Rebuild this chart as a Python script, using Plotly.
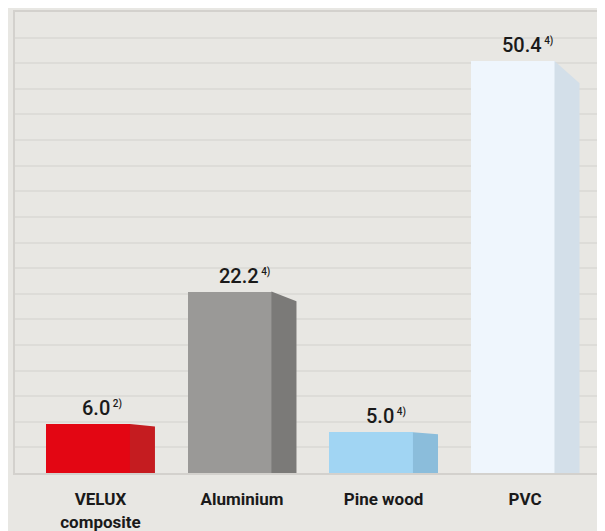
import plotly.graph_objects as go

categories = ["VELUX<br>composite", "Aluminium", "Pine wood", "PVC"]
values = [6.0, 22.2, 5.0, 50.4]
footnotes = ["2)", "4)", "4)", "4)"]
front_colors = ["#e30613", "#9a9997", "#a1d5f3", "#eff6fd"]
side_colors = ["#c51c20", "#7b7a78", "#8bbddb", "#d3dfe9"]

BG = "#e8e7e3"
GRID = "#dddcd8"
AXIS = "#d3d1cd"

front_w = 0.594
front_off = -0.088
side_l = 0.208
side_r = 0.385
persp = 0.946

fig = go.Figure()
xs = list(range(len(values)))
fig.add_trace(go.Bar(
    x=[i + front_off for i in xs], y=values, width=front_w,
    marker=dict(color=front_colors, line=dict(width=0)),
    hoverinfo="skip", showlegend=False,
))
for i, v in enumerate(values):
    fig.add_trace(go.Scatter(
        x=[i + side_l, i + side_l, i + side_r, i + side_r, i + side_l],
        y=[0, v, v * persp, 0, 0],
        fill="toself", fillcolor=side_colors[i], mode="lines",
        line=dict(width=0, color=side_colors[i]),
        hoverinfo="skip", showlegend=False,
    ))
    fig.add_annotation(
        x=i, y=v, xref="x", yref="y",
        text=f"{v:.1f}<sup><span style='font-size:10px'> {footnotes[i]}</span></sup>",
        showarrow=False, yanchor="bottom", yshift=2, xshift=2,
        font=dict(family="Roboto", size=20, color="#1a1a1a", weight=500),
    )

ymax = 56.4
fig.update_layout(
    width=597, height=523,
    margin=dict(l=7, r=0, t=4, b=58),
    paper_bgcolor=BG, plot_bgcolor=BG,
    bargap=0,
    xaxis=dict(
        range=[-0.604, 3.565], tickvals=xs, ticktext=categories,
        showgrid=False, zeroline=False,
        showline=True, mirror=True, linecolor=AXIS, linewidth=2,
        ticks="outside", ticklen=10, tickcolor="rgba(0,0,0,0)",
        tickfont=dict(family="Roboto", size=17, color="#1a1a1a", weight="bold"),
    ),
    yaxis=dict(
        range=[0, ymax], dtick=ymax / 18, showticklabels=False,
        showgrid=True, gridcolor=GRID, gridwidth=2, zeroline=False,
        showline=True, linecolor=AXIS, linewidth=2, ticks="",
    ),
)
fig.write_html("out.html")
